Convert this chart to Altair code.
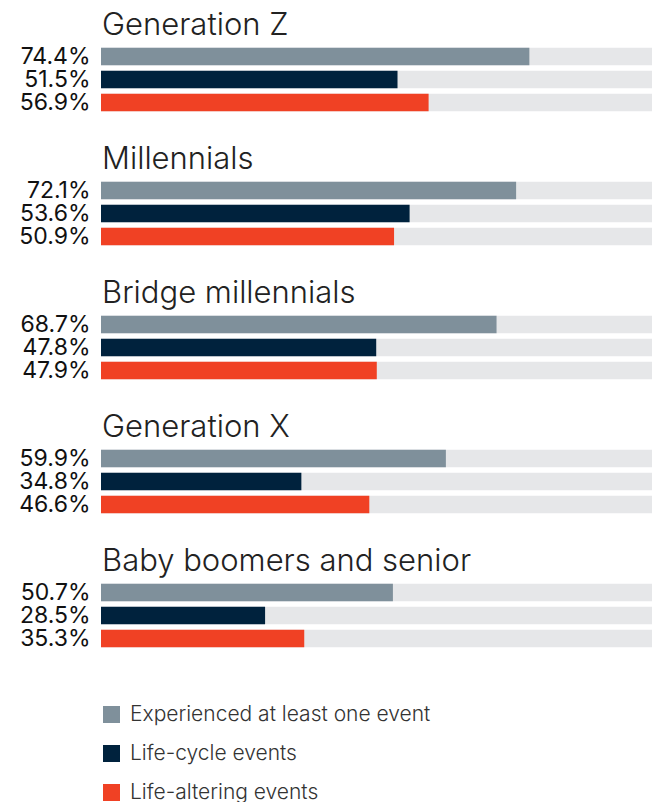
import altair as alt
import pandas as pd

groups = ["Generation Z", "Millennials", "Bridge millennials", "Generation X", "Baby boomers and senior"]
series = ["Experienced at least one event", "Life-cycle events", "Life-altering events"]
experienced = [74.4, 72.1, 68.7, 59.9, 50.7]
lifecycle = [51.5, 53.6, 47.8, 34.8, 28.5]
altering = [56.9, 50.9, 47.9, 46.6, 35.3]
colors = ["#7f909b", "#00223d", "#f04124"]
track_value = 100

FONT = "Inter"

color_scale = alt.Scale(domain=series, range=colors)

panels = []
for gi, g in enumerate(groups):
    vals = [experienced[gi], lifecycle[gi], altering[gi]]
    df = pd.DataFrame({
        "series": series,
        "value": vals,
        "order": [0, 1, 2],
        "label": [f"{v:.1f}%" for v in vals],
        "full": [track_value] * 3,
    })
    tdf = pd.DataFrame({"group": [g]})
    y = alt.Y("label:N", sort=alt.EncodingSortField(field="order", order="ascending"),
              scale=alt.Scale(paddingInner=0.24, paddingOuter=0.12),
              axis=alt.Axis(title=None, domain=False, ticks=False, labelFontSize=23,
                            labelFont=FONT, labelColor="#111111", labelPadding=11,
                            minExtent=93, maxExtent=93))
    xs = alt.Scale(domain=[0, 95.7], nice=False)
    track = alt.Chart(df).mark_bar(color="#e6e7e9", clip=True).encode(
        x=alt.X("full:Q", scale=xs, axis=None), y=y)
    bars = alt.Chart(df).mark_bar(clip=True).encode(
        x=alt.X("value:Q", scale=xs, axis=None), y=y,
        color=alt.Color("series:N", scale=color_scale,
                        legend=alt.Legend(title=None, orient="bottom", direction="vertical",
                                          symbolType="square", symbolSize=289,
                                          symbolStrokeWidth=0, symbolOpacity=1,
                                          labelFont=FONT, labelFontSize=21,
                                          labelFontWeight=300, labelColor="#333333",
                                          labelLimit=600, labelOffset=8, rowPadding=17,
                                          offset=54)))
    title = alt.Chart(tdf).mark_text(align="left", baseline="alphabetic", fontSize=31,
                                     font=FONT, fontWeight=300, color="#222222").encode(
        text="group:N", x=alt.value(1), y=alt.value(-10))
    panel = alt.layer(track, bars, title).properties(width=551, height=69)
    panels.append(panel)

chart = alt.vconcat(*panels, spacing=30).properties(
    padding={"left": 0, "top": 2, "right": 0, "bottom": 0}
).configure_view(stroke=None)

chart.save("out.html", embed_options={"renderer": "svg", "actions": False})
